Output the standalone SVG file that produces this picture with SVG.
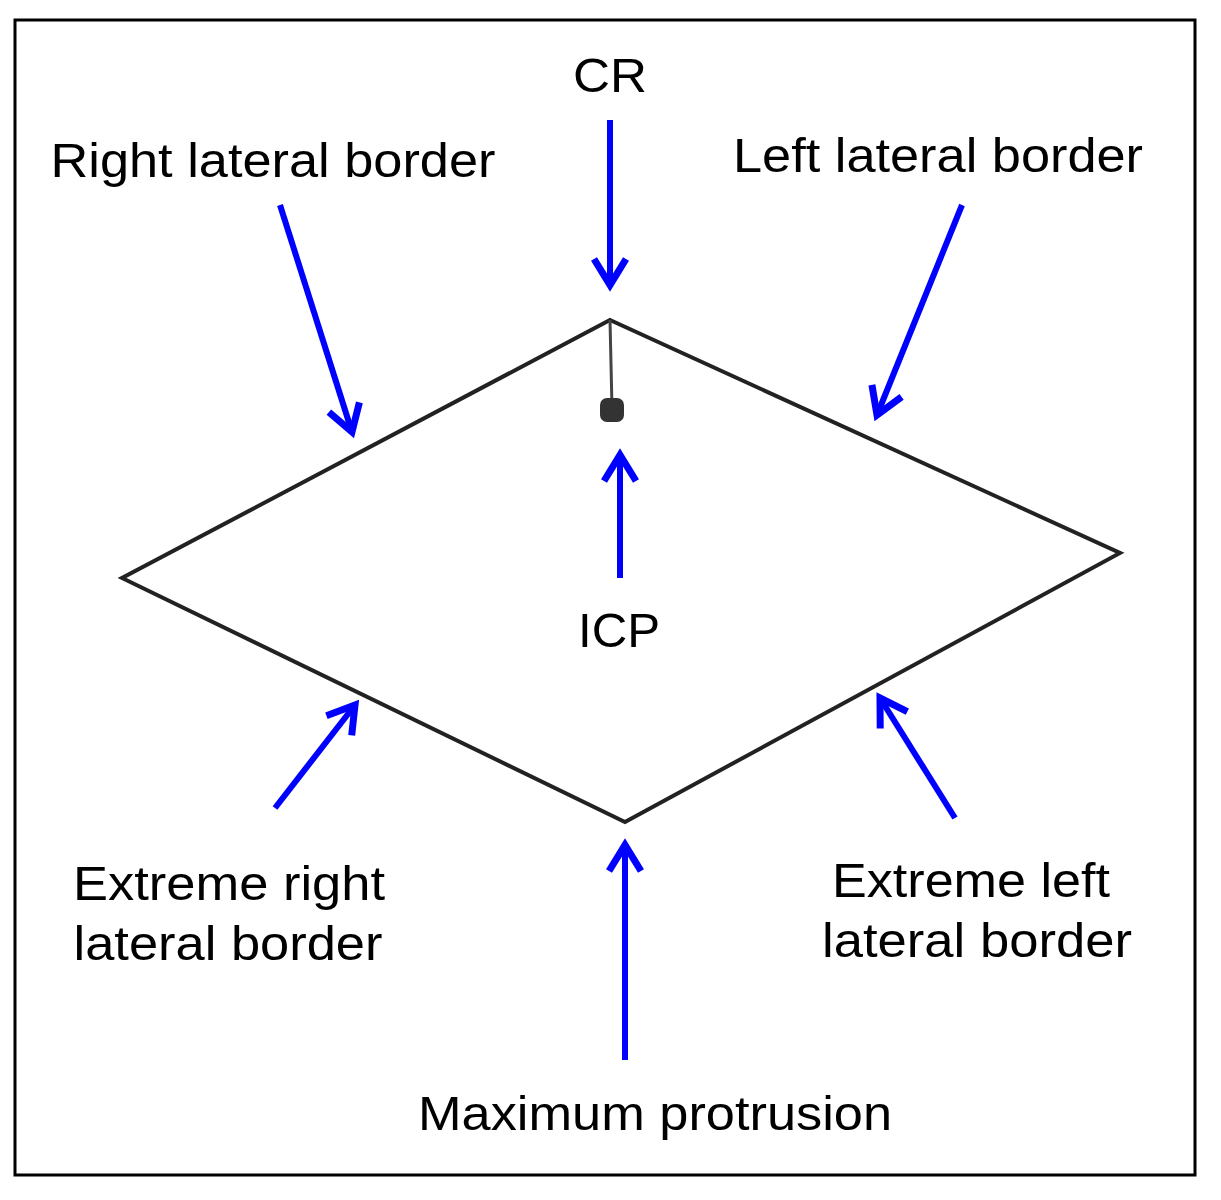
<svg xmlns="http://www.w3.org/2000/svg" width="1221" height="1200" viewBox="0 0 1221 1200">
<style>
.t{font-family:"Liberation Sans",Arial,sans-serif;font-size:48px;fill:#000;text-anchor:middle}
.a{stroke:#0000ff;stroke-width:6;fill:none;marker-end:url(#h)}
</style>
<defs>
<marker id="h" markerUnits="userSpaceOnUse" markerWidth="50" markerHeight="50" refX="40" refY="25" orient="auto" viewBox="0 0 50 50">
<polyline points="14,9 40,25 14,41" fill="none" stroke="#0000ff" stroke-width="7"/>
</marker>
</defs>
<rect x="15" y="20" width="1180" height="1155" fill="#fff" stroke="#000" stroke-width="3"/>
<g id="diamond">
<polygon points="610,320 1120,553 625,822 122,578" fill="none" stroke="#222" stroke-width="4"/>
<line x1="610" y1="320" x2="612" y2="408" stroke="#444" stroke-width="3"/>
<rect x="600" y="398" width="24" height="24" rx="7" fill="#333"/>
</g>
<g id="connectors">
<line class="a" x1="610" y1="120" x2="610" y2="285"/>
<line class="a" x1="280" y1="205" x2="352" y2="432"/>
<line class="a" x1="962" y1="205" x2="877" y2="415"/>
<line class="a" x1="620" y1="578" x2="620" y2="455"/>
<line class="a" x1="275" y1="808" x2="355" y2="705"/>
<line class="a" x1="955" y1="818" x2="880" y2="698"/>
<line class="a" x1="625" y1="1060" x2="625" y2="845"/>
</g>
<g id="cr"><text class="t" x="610" y="92" textLength="74" lengthAdjust="spacingAndGlyphs">CR</text></g>
<g id="rlb"><text class="t" x="273" y="177" textLength="445" lengthAdjust="spacingAndGlyphs">Right lateral border</text></g>
<g id="llb"><text class="t" x="938" y="172" textLength="410" lengthAdjust="spacingAndGlyphs">Left lateral border</text></g>
<g id="icp"><text class="t" x="619" y="647" textLength="82" lengthAdjust="spacingAndGlyphs">ICP</text></g>
<g id="erlb"><text class="t" x="229" y="900" textLength="312" lengthAdjust="spacingAndGlyphs">Extreme right</text><text class="t" x="228" y="960" textLength="309" lengthAdjust="spacingAndGlyphs">lateral border</text></g>
<g id="ellb"><text class="t" x="971" y="897" textLength="278" lengthAdjust="spacingAndGlyphs">Extreme left</text><text class="t" x="977" y="957" textLength="310" lengthAdjust="spacingAndGlyphs">lateral border</text></g>
<g id="mp"><text class="t" x="655" y="1130" textLength="474" lengthAdjust="spacingAndGlyphs">Maximum protrusion</text></g>
</svg>
